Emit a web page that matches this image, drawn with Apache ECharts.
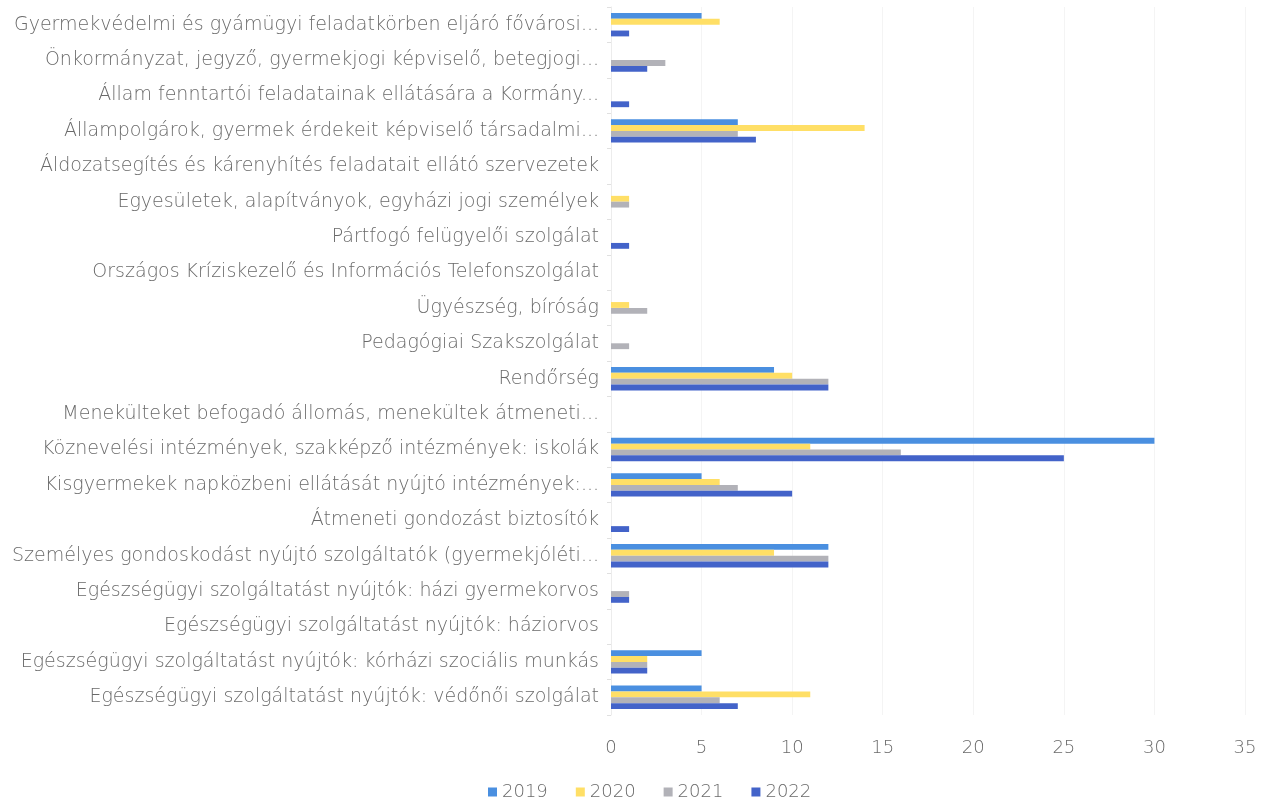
<!DOCTYPE html>
<html>
<head>
<meta charset="utf-8">
<script src="https://cdn.jsdelivr.net/npm/echarts@6/dist/echarts.min.js"></script>
<style>
  html, body { margin: 0; padding: 0; background: #fff; }
  #chart { width: 1261px; height: 807px; }
</style>
</head>
<body>
<div id="chart"></div>
<script>
// categories, top to bottom as in the picture
const categories = [
  'Gyermekvédelmi és gyámügyi feladatkörben eljáró fővárosi...',
  'Önkormányzat, jegyző, gyermekjogi képviselő, betegjogi...',
  'Állam fenntartói feladatainak ellátására a Kormány...',
  'Állampolgárok, gyermek érdekeit képviselő társadalmi...',
  'Áldozatsegítés és kárenyhítés feladatait ellátó szervezetek',
  'Egyesületek, alapítványok, egyházi jogi személyek',
  'Pártfogó felügyelői szolgálat',
  'Országos Kríziskezelő és Információs Telefonszolgálat',
  'Ügyészség, bíróság',
  'Pedagógiai Szakszolgálat',
  'Rendőrség',
  'Menekülteket befogadó állomás, menekültek átmeneti...',
  'Köznevelési intézmények, szakképző intézmények: iskolák',
  'Kisgyermekek napközbeni ellátását nyújtó intézmények:...',
  'Átmeneti gondozást biztosítók',
  'Személyes gondoskodást nyújtó szolgáltatók (gyermekjóléti...',
  'Egészségügyi szolgáltatást nyújtók: házi gyermekorvos',
  'Egészségügyi szolgáltatást nyújtók: háziorvos',
  'Egészségügyi szolgáltatást nyújtók: kórházi szociális munkás',
  'Egészségügyi szolgáltatást nyújtók: védőnői szolgálat'
]

const years = ['2019', '2020', '2021', '2022']

const values2019 = [5, 0, 0, 7, 0, 0, 0, 0, 0, 0, 9, 0, 30, 5, 0, 12, 0, 0, 5, 5]
const values2020 = [6, 0, 0, 14, 0, 1, 0, 0, 1, 0, 10, 0, 11, 6, 0, 9, 0, 0, 2, 11]
const values2021 = [0, 3, 0, 7, 0, 1, 0, 0, 2, 1, 12, 0, 16, 7, 0, 12, 1, 0, 2, 6]
const values2022 = [1, 2, 1, 8, 0, 0, 1, 0, 0, 0, 12, 0, 25, 10, 1, 12, 1, 0, 2, 7]

const xTicks = { min: 0, max: 35, interval: 5 }

const colors = ['#4a8fe0', '#ffdf66', '#b2b2b8', '#4363c9']
const allValues = [values2019, values2020, values2021, values2022]

const myChart = echarts.init(document.getElementById('chart'))
const option = {
  backgroundColor: '#ffffff',
  textStyle: { fontFamily: 'DejaVu Sans' },
  legend: {
    bottom: 1,
    left: 483,
    itemWidth: 9,
    itemHeight: 9,
    itemGap: 28,
    icon: 'rect',
    textStyle: { fontSize: 18, color: '#6a6a6a', fontFamily: 'DejaVu Sans', fontWeight: 300 },
    data: years
  },
  grid: {
    top: 7,
    left: 611,
    right: 16,
    bottom: 92
  },
  xAxis: {
    type: 'value',
    min: xTicks.min,
    max: xTicks.max,
    interval: xTicks.interval,
    axisLine: { show: false },
    axisTick: { show: false },
    axisLabel: { color: '#6a6a6a', fontSize: 18, margin: 24, fontWeight: 300 },
    splitLine: { show: true, lineStyle: { color: '#f4f4f4' } }
  },
  yAxis: {
    type: 'category',
    inverse: true,
    data: categories,
    axisLine: { show: true, lineStyle: { color: '#ececec' } },
    axisTick: { show: true, length: 4, lineStyle: { color: '#e0e0e0' } },
    axisLabel: { color: '#6a6a6a', fontSize: 19, margin: 12, fontWeight: 300 }
  },
  series: years.map((y, i) => ({
    name: y,
    type: 'bar',
    data: allValues[i],
    barGap: '0%',
    barCategoryGap: '34%',
    itemStyle: { color: colors[i] }
  }))
}

myChart.setOption(option)
</script>
</body>
</html>
